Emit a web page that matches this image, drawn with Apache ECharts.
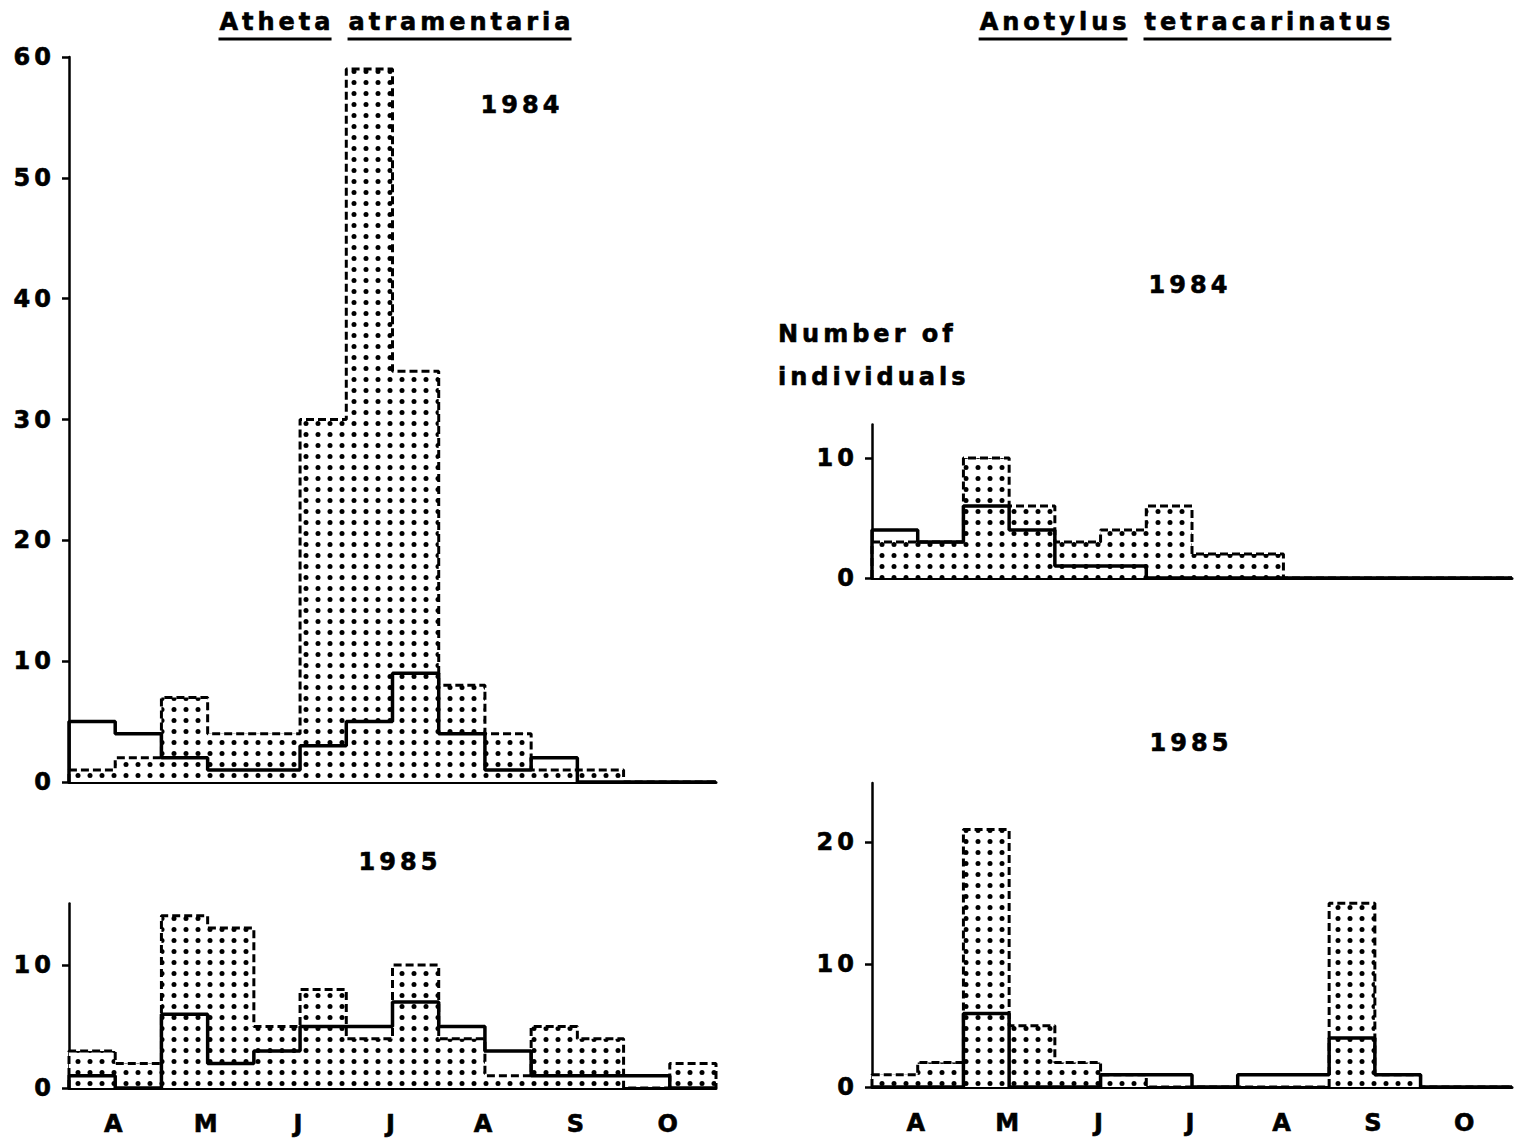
<!DOCTYPE html>
<html>
<head>
<meta charset="utf-8">
<script src="https://cdn.jsdelivr.net/npm/echarts@6/dist/echarts.min.js"></script>
<style>
  html, body { margin: 0; padding: 0; background: #fff; }
  #chart { width: 1514px; height: 1138px; }
  /* wide, Letraset-style lettering */
  #chart svg text { letter-spacing: 4px; }
</style>
</head>
<body>
<div id="chart"></div>
<script>
// Half-month sampling periods, April to October (14 bins)
const months = ['A', 'M', 'J', 'J', 'A', 'S', 'O'];

// Atheta atramentaria
const atheta1984Shaded = [1, 2, 7, 4, 4, 30, 59, 34, 8, 4, 1, 1, 0, 0];
const atheta1984Line   = [5, 4, 2, 1, 1, 3, 5, 9, 4, 1, 2, 0, 0, 0];
const atheta1985Shaded = [3, 2, 14, 13, 5, 8, 4, 10, 4, 1, 5, 4, 0, 2];
const atheta1985Line   = [1, 0, 6, 2, 3, 5, 5, 7, 5, 3, 1, 1, 1, 0];

// Anotylus tetracarinatus
const anotylus1984Shaded = [3, 3, 10, 6, 3, 4, 6, 2, 2, 0, 0, 0, 0, 0];
const anotylus1984Line   = [4, 3, 6, 4, 1, 1, 0, 0, 0, 0, 0, 0, 0, 0];
const anotylus1985Shaded = [1, 2, 21, 5, 2, 1, 0, 0, 0, 0, 15, 1, 0, 0];
const anotylus1985Line   = [0, 0, 6, 0, 0, 1, 1, 0, 1, 1, 4, 1, 0, 0];

// Y tick labels per panel
const yTicksAtheta1984   = [0, 10, 20, 30, 40, 50, 60];
const yTicksAtheta1985   = [0, 10];
const yTicksAnotylus1984 = [0, 10];
const yTicksAnotylus1985 = [0, 10, 20];

const FONT = 'DejaVu Sans';
const FS = 24;

// stipple fill: a regular grid of black dots
const dotCanvas = document.createElement('canvas');
dotCanvas.width = 12; dotCanvas.height = 11;
(function () {
  const c = dotCanvas.getContext('2d');
  c.fillStyle = '#fff';
  c.fillRect(0, 0, 12, 11);
  c.fillStyle = '#000';
  c.beginPath();
  c.arc(6, 5.5, 2.5, 0, Math.PI * 2);
  c.fill();
})();

// histogram outline: bin i spans [i, i+1]
function stepData(vals) {
  const pts = [[0, 0]];
  vals.forEach((v, i) => pts.push([i, v]));
  pts.push([vals.length, vals[vals.length - 1]]);
  pts.push([vals.length, 0]);
  return pts;
}

const monthPos = months.map((m, i) => 2 * i + 1);

const panels = [
  { grid: { left: 69, top: 57, width: 647, height: 725 }, max: 60, ticks: yTicksAtheta1984,
    shaded: atheta1984Shaded, line: atheta1984Line, months: false },
  { grid: { left: 69, top: 903.5, width: 647, height: 184.5 }, max: 15, ticks: yTicksAtheta1985,
    shaded: atheta1985Shaded, line: atheta1985Line, months: true },
  { grid: { left: 872, top: 424.4, width: 640, height: 153.6 }, max: 12.8, ticks: yTicksAnotylus1984,
    shaded: anotylus1984Shaded, line: anotylus1984Line, months: false },
  { grid: { left: 872, top: 783, width: 640, height: 304 }, max: 24.8, ticks: yTicksAnotylus1985,
    shaded: anotylus1985Shaded, line: anotylus1985Line, months: true }
];

const labelStyle = {
  color: '#000', fontFamily: FONT, fontWeight: 'bold', fontSize: FS,
  textBorderColor: '#000', textBorderWidth: 0.6
};

const grid = [], xAxis = [], yAxis = [], series = [];
panels.forEach((p, k) => {
  grid.push(p.grid);
  xAxis.push({
    type: 'value', gridIndex: k, min: 0, max: 14,
    axisLine: { show: true, lineStyle: { color: '#000', width: 3 } },
    axisTick: { show: false },
    splitLine: { show: false },
    axisLabel: Object.assign({
      show: p.months, customValues: monthPos, margin: 24,
      formatter: v => months[(v - 1) / 2]
    }, labelStyle)
  });
  yAxis.push({
    type: 'value', gridIndex: k, min: 0, max: p.max,
    axisLine: { show: true, onZero: false, lineStyle: { color: '#000', width: 2.5 } },
    axisTick: { show: true, length: 7, customValues: p.ticks, lineStyle: { color: '#000', width: 2.5 } },
    splitLine: { show: false },
    axisLabel: Object.assign({ customValues: p.ticks, margin: 14 }, labelStyle)
  });
  series.push({
    type: 'line', xAxisIndex: k, yAxisIndex: k, step: 'end', symbol: 'none',
    data: stepData(p.shaded), z: 2, silent: true,
    lineStyle: { color: '#000', width: 3, type: [8, 4] },
    areaStyle: { color: { image: dotCanvas, repeat: 'repeat' }, opacity: 1 }
  });
  series.push({
    type: 'line', xAxisIndex: k, yAxisIndex: k, step: 'end', symbol: 'none',
    data: stepData(p.line), z: 3, silent: true,
    lineStyle: { color: '#000', width: 3.5 }
  });
});

// underlined species names, one underline per word
const mctx = document.createElement('canvas').getContext('2d');
mctx.font = 'bold ' + FS + 'px "' + FONT + '"';
mctx.letterSpacing = '4px';
function wordWidth(w) { return mctx.measureText(w).width - 4; }

const textStyle = {
  fill: '#000', font: 'bold ' + FS + 'px "' + FONT + '"',
  stroke: '#000', lineWidth: 0.6, textVerticalAlign: 'middle'
};

function underlinedTitle(words, cx, y) {
  const gap = 18;
  const widths = words.map(wordWidth);
  const total = widths.reduce((a, b) => a + b, 0) + gap * (words.length - 1);
  let x = cx - total / 2;
  const els = [];
  words.forEach((w, i) => {
    els.push({ type: 'text', x: x, y: y,
      style: Object.assign({ text: w, textAlign: 'left' }, textStyle) });
    els.push({ type: 'line', shape: { x1: x - 1, y1: y + 17, x2: x + widths[i] + 1, y2: y + 17 },
      style: { stroke: '#000', lineWidth: 3 } });
    x += widths[i] + gap;
  });
  return els;
}

function label(text, x, y, align) {
  return { type: 'text', x: x, y: y,
    style: Object.assign({ text: text, textAlign: align || 'center' }, textStyle) };
}

const graphic = [].concat(
  underlinedTitle(['Atheta', 'atramentaria'], 395, 22),
  underlinedTitle(['Anotylus', 'tetracarinatus'], 1185, 22),
  [
    label('1984', 522, 105),
    label('1985', 400, 862),
    label('1984', 1190, 285),
    label('Number of', 778, 334, 'left'),
    label('individuals', 778, 377, 'left'),
    label('1985', 1191, 743)
  ]
);

const chart = echarts.init(document.getElementById('chart'), null, { renderer: 'svg' });
chart.setOption({
  animation: false,
  backgroundColor: '#fff',
  grid: grid,
  xAxis: xAxis,
  yAxis: yAxis,
  series: series,
  graphic: graphic
});
</script>
</body>
</html>
